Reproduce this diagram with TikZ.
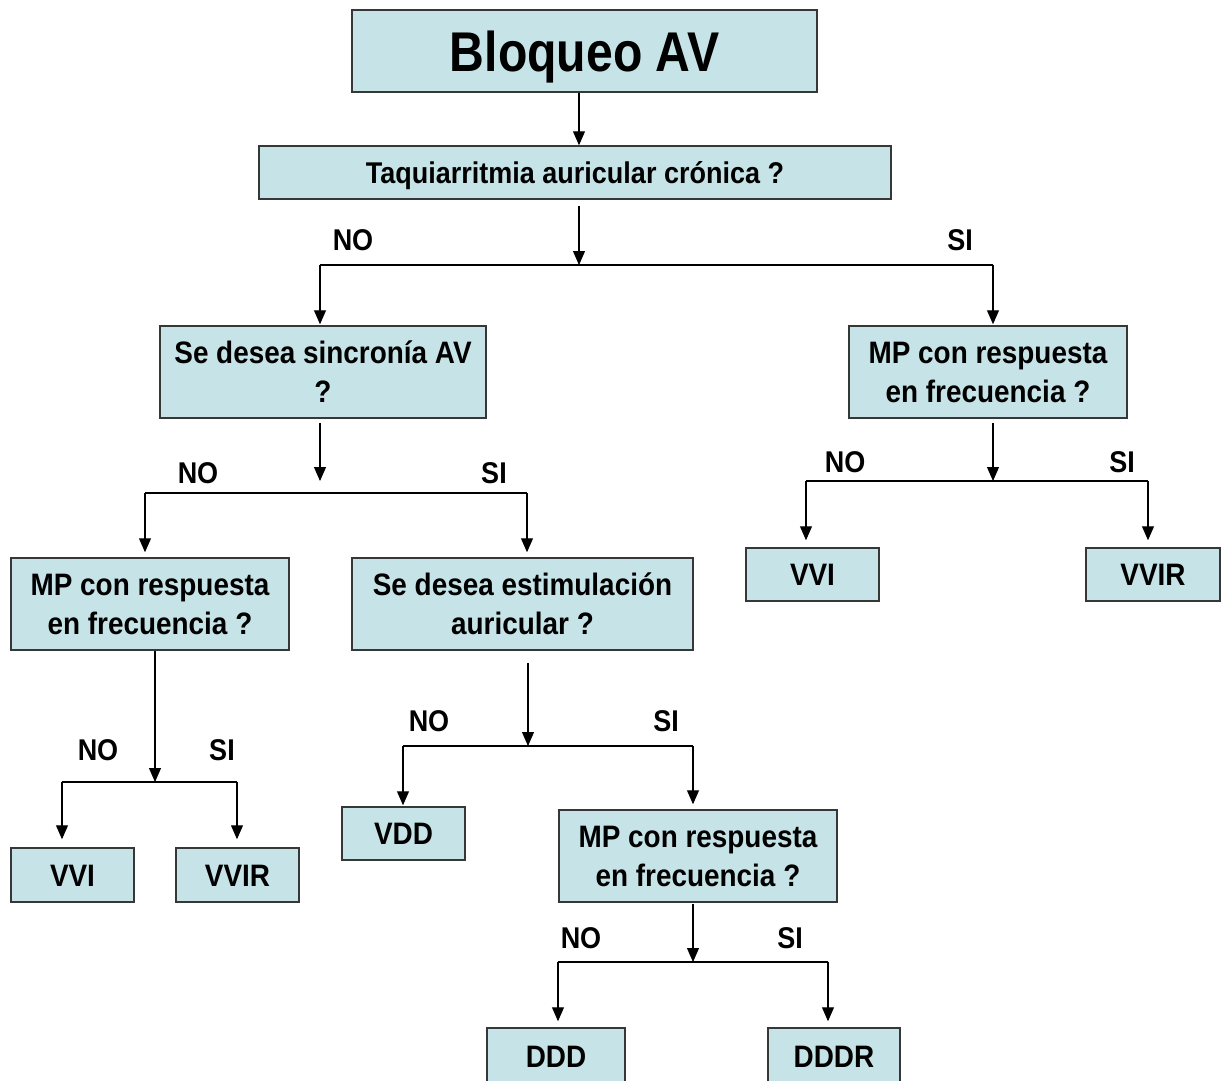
\documentclass[tikz,border=0pt]{standalone}
\usepackage{fontspec}
\setmainfont{Liberation Sans}[FakeStretch=0.9]
\newfontfamily\titlefont{Liberation Sans}[FakeStretch=0.86]
\usetikzlibrary{arrows.meta}
\definecolor{boxfill}{RGB}{198,228,231}
\definecolor{boxline}{RGB}{55,55,55}
\begin{document}
\begin{tikzpicture}[x=1pt,y=-1pt,
  boxn/.style={draw=boxline, line width=1.5pt, fill=boxfill, inner sep=0pt,
    font=\bfseries\fontsize{31}{39}\selectfont},
  boxs/.style={boxn, minimum height=53pt, text height=22pt, text depth=0pt},
  boxt/.style={boxn, minimum height=92pt, align=center},
  ln/.style={draw=black, line width=1.1pt},
  arr/.style={ln, -{Triangle[width=12pt,length=14pt]}},
  lbl/.style={font=\bfseries\fontsize{30}{36}\selectfont, inner sep=0pt}
]
\useasboundingbox (0,0) rectangle (1227,1081);
\clip (0,0) rectangle (1227,1081);

% boxes
\node[boxn, minimum width=465pt, minimum height=82pt,
  font=\titlefont\bfseries\fontsize{56}{60}\selectfont, text height=40pt, text depth=0pt]
  (bloq) at (584.5,51) {Bloqueo AV};
\node[boxn, minimum width=632pt, minimum height=53pt,
  font=\bfseries\fontsize{30}{36}\selectfont, text height=21.5pt, text depth=0pt]
  (taq) at (575,172.5) {Taquiarritmia auricular crónica ?};
\node[boxt, minimum width=326pt] (sinc) at (323,372)
  {\rule{0pt}{22pt}\smash{Se desea sincronía AV}\\\smash{?}};
\node[boxt, minimum width=278pt] (mpR) at (988,372)
  {\rule{0pt}{22pt}\smash{MP con respuesta}\\\smash{en frecuencia ?}};
\node[boxt, minimum width=278pt] (mpL) at (150,604)
  {\rule{0pt}{22pt}\smash{MP con respuesta}\\\smash{en frecuencia ?}};
\node[boxt, minimum width=341pt] (estim) at (522.5,604)
  {\rule{0pt}{22pt}\smash{Se desea estimulación}\\\smash{auricular ?}};
\node[boxs, minimum width=133pt] (vviR) at (812.5,574.5) {VVI};
\node[boxs, minimum width=134pt] (vvirR) at (1153,574.5) {VVIR};
\node[boxs, minimum width=123pt, minimum height=54pt] (vviL) at (72.5,875) {VVI};
\node[boxs, minimum width=123pt, minimum height=54pt] (vvirL) at (237.5,875) {VVIR};
\node[boxs, minimum width=123pt] (vdd) at (403.5,833.5) {VDD};
\node[boxt, minimum width=278pt] (mpB) at (698,856)
  {\rule{0pt}{22pt}\smash{MP con respuesta}\\\smash{en frecuencia ?}};
\node[boxs, minimum width=138pt, minimum height=56pt] (ddd) at (556,1056) {DDD};
\node[boxs, minimum width=132pt, minimum height=56pt] (dddr) at (834,1056) {DDDR};

% labels
\node[lbl] (no1) at (353,240) {NO};
\node[lbl] (si1) at (960,240) {SI};
\node[lbl] (no2) at (198,473) {NO};
\node[lbl] (si2) at (494,473) {SI};
\node[lbl] (no3) at (845,462) {NO};
\node[lbl] (si3) at (1122,462) {SI};
\node[lbl] (no4) at (98,750) {NO};
\node[lbl] (si4) at (222,750) {SI};
\node[lbl] (no5) at (429,721) {NO};
\node[lbl] (si5) at (666,721) {SI};
\node[lbl] (no6) at (581,938) {NO};
\node[lbl] (si6) at (790,938) {SI};

% junctions
\coordinate (j1) at (579,265);
\coordinate (b1l) at (320,265);
\coordinate (b1r) at (993,265);
\coordinate (j2) at (320,493);
\coordinate (b2l) at (145,493);
\coordinate (b2r) at (527,493);
\coordinate (j3) at (993,481);
\coordinate (b3l) at (806,481);
\coordinate (b3r) at (1148,481);
\coordinate (j4) at (155,782);
\coordinate (b4l) at (62,782);
\coordinate (b4r) at (237,782);
\coordinate (j5) at (528,746);
\coordinate (b5l) at (403,746);
\coordinate (b5r) at (693,746);
\coordinate (j6) at (693,962);
\coordinate (b6l) at (558,962);
\coordinate (b6r) at (828,962);

% connectors
\draw[arr] (bloq.south -| j1) -- (taq.north -| j1);
\draw[arr, shorten <=6pt] (taq.south -| j1) -- (j1);
\draw[ln] (b1l) -- (b1r);
\draw[arr, shorten >=1pt] (b1l) -- (b1l |- sinc.north);
\draw[arr, shorten >=1pt] (b1r) -- (b1r |- mpR.north);

\draw[arr, shorten <=4pt, shorten >=12pt] (sinc.south -| j2) -- (j2);
\draw[ln] (b2l) -- (b2r);
\draw[arr, shorten >=5pt] (b2l) -- (b2l |- mpL.north);
\draw[arr, shorten >=5pt] (b2r) -- (b2r |- estim.north);

\draw[arr, shorten <=4pt] (mpR.south -| j3) -- (j3);
\draw[ln] (b3l) -- (b3r);
\draw[arr, shorten >=7pt] (b3l) -- (b3l |- vviR.north);
\draw[arr, shorten >=7pt] (b3r) -- (b3r |- vvirR.north);

\draw[arr] (mpL.south -| j4) -- (j4);
\draw[ln] (b4l) -- (b4r);
\draw[arr, shorten >=8pt] (b4l) -- (b4l |- vviL.north);
\draw[arr, shorten >=8pt] (b4r) -- (b4r |- vvirL.north);

\draw[arr, shorten <=12pt] (estim.south -| j5) -- (j5);
\draw[ln] (b5l) -- (b5r);
\draw[arr, shorten >=1pt] (b5l) -- (b5l |- vdd.north);
\draw[arr, shorten >=5pt] (b5r) -- (b5r |- mpB.north);

\draw[arr, shorten <=1pt] (mpB.south -| j6) -- (j6);
\draw[ln] (b6l) -- (b6r);
\draw[arr, shorten >=6pt] (b6l) -- (b6l |- ddd.north);
\draw[arr, shorten >=6pt] (b6r) -- (b6r |- dddr.north);
\end{tikzpicture}
\end{document}
